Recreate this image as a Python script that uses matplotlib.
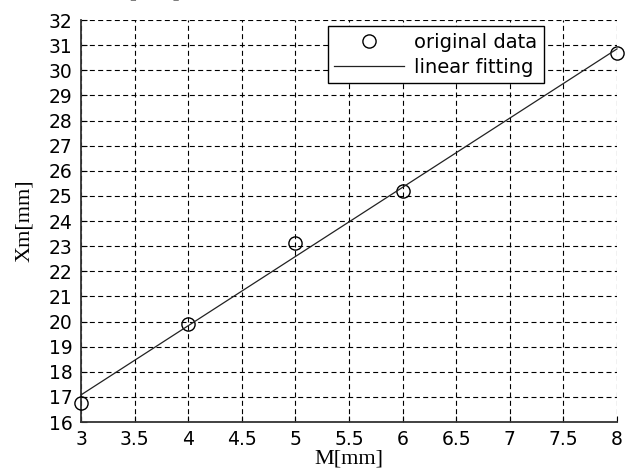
import numpy as np
import matplotlib.pyplot as plt

# measured data
m_mm = [3, 4, 5, 6, 8]
xm_mm = [16.75, 19.9, 23.14, 25.2, 30.7]

x_ticks = [3, 3.5, 4, 4.5, 5, 5.5, 6, 6.5, 7, 7.5, 8]
x_labels = ["3", "3.5", "4", "4.5", "5", "5.5", "6", "6.5", "7", "7.5", "8"]
y_ticks = list(range(16, 33))

# linear fit
k, b = np.polyfit(m_mm, xm_mm, 1)
fit_x = np.array([m_mm[0], m_mm[-1]])
fit_y = k * fit_x + b

fig = plt.figure(figsize=(6.27, 4.70), dpi=100)
ax = fig.add_axes([0.1292, 0.1021, 0.8548, 0.8553])

ax.plot(m_mm, xm_mm, 'o', mfc='none', mec='black', ms=9.5, mew=1.0,
        label='original data', clip_on=False, zorder=3)
ax.plot(fit_x, fit_y, '-', color='#222222', lw=0.9, label='linear fitting',
        clip_on=False, zorder=3)

ax.set_xlim(3, 8)
ax.set_ylim(16, 32)
ax.set_xticks(x_ticks)
ax.set_xticklabels(x_labels)
ax.set_yticks(y_ticks)

ax.grid(True, color='black', linestyle=(0, (4.5, 3)), linewidth=0.8)
ax.set_axisbelow(True)

ax.spines['top'].set_visible(False)
ax.spines['right'].set_visible(False)
ax.spines['left'].set_color('#333333')
ax.spines['bottom'].set_color('#333333')
ax.spines['left'].set_linewidth(1.3)
ax.spines['bottom'].set_linewidth(1.3)

ax.tick_params(direction='in', length=4, width=0.8, labelsize=13.5,
               top=False, right=False, pad=6)
for lbl in ax.get_xticklabels() + ax.get_yticklabels():
    lbl.set_family('DejaVu Sans')

ax.set_xlabel('M[mm]', family='Liberation Serif', fontsize=16, labelpad=0)
ax.set_ylabel('Xm[mm]', family='Liberation Serif', fontsize=16, labelpad=11)

leg = ax.legend(loc='upper right', bbox_to_anchor=(0.8676, 0.9447),
                bbox_transform=fig.transFigure, fancybox=False,
                edgecolor='black', framealpha=1, handlelength=3.6,
                borderpad=0.35, labelspacing=0.3, handletextpad=0.5,
                borderaxespad=0, prop={'family': 'DejaVu Sans', 'size': 14})
leg.get_frame().set_linewidth(1.0)

# cut-off label from the source figure above
fig.text(155 / 627, 1.0 + 4 / 470, '[mm]', family='Liberation Serif',
         fontsize=17, ha='center', va='baseline')

fig.savefig('out.png', dpi=100)
